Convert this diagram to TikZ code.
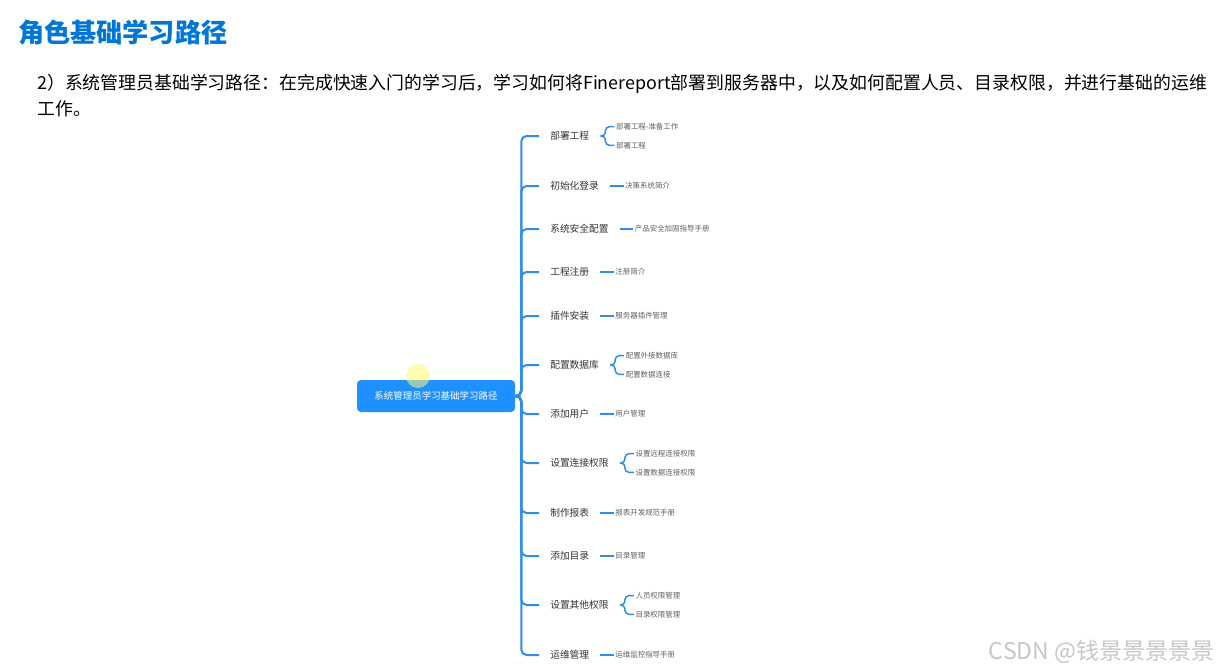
\documentclass[tikz,border=0pt]{standalone}
\usepackage{fontspec}
\setmainfont{Noto Sans CJK SC}
\usetikzlibrary{positioning}
\definecolor{mapblue}{RGB}{30,144,255}
\definecolor{linkblue}{RGB}{45,142,235}
\definecolor{titleblue}{RGB}{0,118,214}
\begin{document}
\begin{tikzpicture}[x=0.75pt, y=-0.75pt,
  topic/.style={anchor=west, inner xsep=8.25pt, inner ysep=2pt, text=black!80, font=\fontsize{7.3}{9}\selectfont},
  leaf/.style={anchor=west, inner xsep=1pt, inner ysep=1pt, text=black!62, font=\fontsize{5.6}{7}\selectfont},
  trunk/.style={draw=linkblue, line width=1.5pt, rounded corners=4pt},
  link/.style={draw=linkblue, line width=1.1pt, rounded corners=3pt}]
\fill[white] (0,0) rectangle (1222,671);
\useasboundingbox (0,0) rectangle (1222,671);
% heading and intro text
\node[anchor=west, inner sep=0, text=titleblue, font=\bfseries\fontsize{19.6}{22}\selectfont] (title) at (18,33) {角色基础学习路径};
\node[anchor=west, inner sep=0, align=left, font=\fontsize{13.4}{19.5}\selectfont] (intro) at (37,96) {2）系统管理员基础学习路径：在完成快速入门的学习后，学习如何将Finereport部署到服务器中，以及如何配置人员、目录权限，并进行基础的运维\\工作。};
% root
\node[fill=mapblue, rounded corners=3pt, minimum width=118.5pt, minimum height=24pt, text=white, font=\fontsize{7.1}{9}\selectfont] (root) at (436,396) {系统管理员学习基础学习路径};
\fill[yellow!55, opacity=0.55] (418,376) circle (12);
% first level
\node[topic] (l1) at (539,136) {部署工程};
\node[topic] (l2) at (539,186) {初始化登录};
\node[topic] (l3) at (539,229) {系统安全配置};
\node[topic] (l4) at (539,272) {工程注册};
\node[topic] (l5) at (539,316) {插件安装};
\node[topic] (l6) at (539,365) {配置数据库};
\node[topic] (l7) at (539,414) {添加用户};
\node[topic] (l8) at (539,463) {设置连接权限};
\node[topic] (l9) at (539,513) {制作报表};
\node[topic] (l10) at (539,556) {添加目录};
\node[topic] (l11) at (539,605) {设置其他权限};
\node[topic] (l12) at (539,655) {运维管理};
\foreach \i in {1,...,12}
  \draw[trunk] (root.east) -- ++(6,0) |- (l\i.west);
% second level
\node[leaf] (l1a) at ([xshift=10.5pt, yshift=7pt]l1.east) {部署工程-准备工作};
\node[leaf] (l1b) at ([xshift=10.5pt, yshift=-7pt]l1.east) {部署工程};
\node[leaf, right=10pt of l2] (l2a) {决策系统简介};
\node[leaf, right=10pt of l3] (l3a) {产品安全加固指导手册};
\node[leaf, right=10pt of l4] (l4a) {注册简介};
\node[leaf, right=10pt of l5] (l5a) {服务器插件管理};
\node[leaf] (l6a) at ([xshift=10.5pt, yshift=7pt]l6.east) {配置外接数据库};
\node[leaf] (l6b) at ([xshift=10.5pt, yshift=-7pt]l6.east) {配置数据连接};
\node[leaf, right=10pt of l7] (l7a) {用户管理};
\node[leaf] (l8a) at ([xshift=10.5pt, yshift=7pt]l8.east) {设置远程连接权限};
\node[leaf] (l8b) at ([xshift=10.5pt, yshift=-7pt]l8.east) {设置数据连接权限};
\node[leaf, right=10pt of l9] (l9a) {报表开发规范手册};
\node[leaf, right=10pt of l10] (l10a) {目录管理};
\node[leaf] (l11a) at ([xshift=10.5pt, yshift=7pt]l11.east) {人员权限管理};
\node[leaf] (l11b) at ([xshift=10.5pt, yshift=-7pt]l11.east) {目录权限管理};
\node[leaf, right=10pt of l12] (l12a) {运维监控指导手册};
\foreach \p in {l1,l6,l8,l11} {
  \draw[link] (\p.east) -- ++(5,0) |- (\p a.west);
  \draw[link] (\p.east) -- ++(5,0) |- (\p b.west);
}
\foreach \p in {l2,l3,l4,l5,l7,l9,l10,l12}
  \draw[link] (\p.east) -- (\p a.west);
% watermark
\node[anchor=east, inner sep=0, text=black!22, font=\fontsize{17.3}{18}\selectfont] (mark) at (1215,652) {CSDN @钱景景景景景};
\end{tikzpicture}
\end{document}
